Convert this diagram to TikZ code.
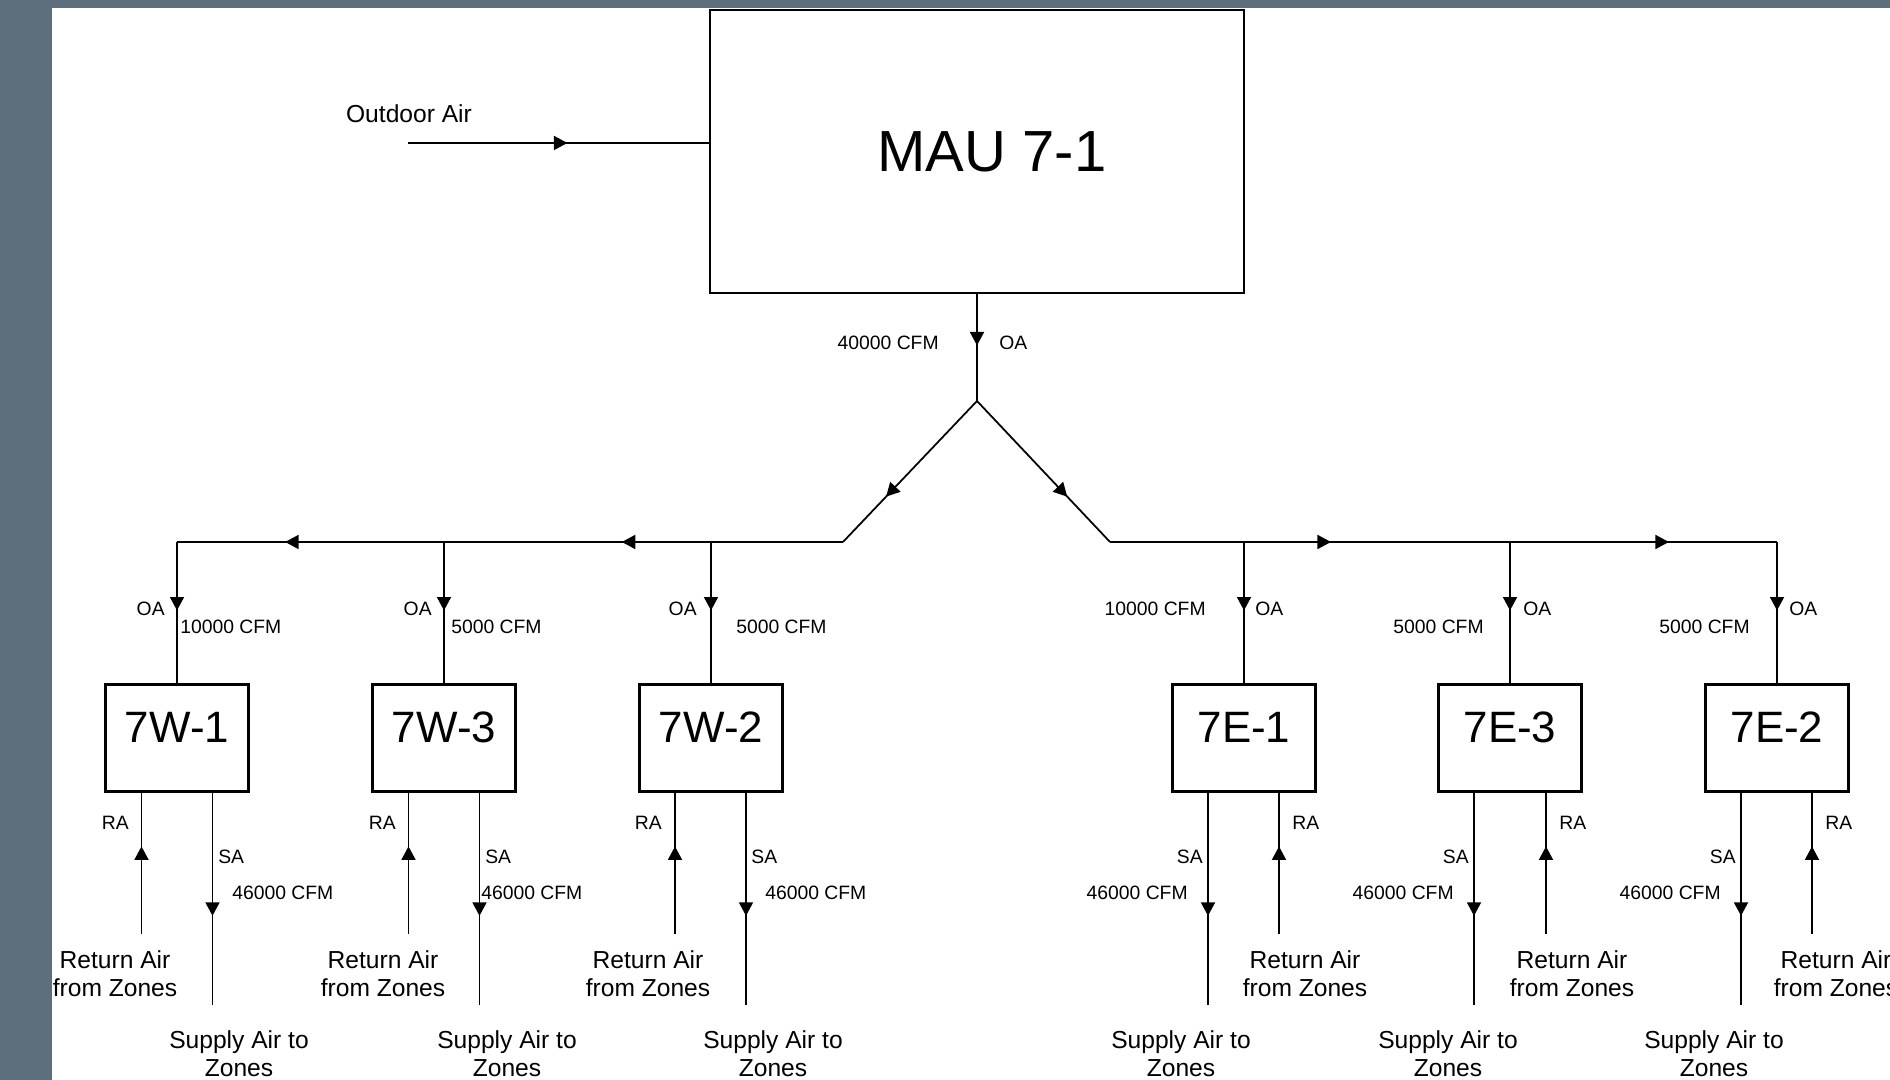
\documentclass[tikz,border=0pt]{standalone}
\usepackage{fontspec}
\setmainfont{Liberation Sans}
\usetikzlibrary{arrows.meta, positioning, calc, decorations.markings}

\definecolor{slate}{RGB}{93,111,125}

\begin{document}
\begin{tikzpicture}[>=Latex, every node/.style={inner sep=0pt, font=\fontsize{11}{13}\selectfont},
    midarrow/.style={postaction={decorate, decoration={markings, mark=at position #1 with {\arrow{Triangle[length=0.27cm, width=0.28cm]}}}}}]
    \tikzstyle{unit}=[rectangle, draw, line width=1.4pt, minimum width=2.86cm, minimum height=2.14cm, text height=0.64cm, text depth=0.44cm, font=\fontsize{25}{30}\selectfont]
    \tikzstyle{duct}=[line width=1pt]
    \tikzstyle{zone}=[align=center, font=\fontsize{14}{16}\selectfont]

    \useasboundingbox (0,0) rectangle (37.8,21.6);
    \fill[slate] (0,0) rectangle (37.8,21.6);
    \fill[white] (1.04,0) rectangle (37.8,21.44);

    \node[draw, line width=1.4pt, minimum width=10.68cm, minimum height=5.66cm, font=\fontsize{33}{40}\selectfont] (mau) at (19.54, 18.57) {\hspace*{0.6cm}MAU 7-1};
    \node[font=\fontsize{14}{16}\selectfont] (oalabel) at (8.18, 19.32) {Outdoor Air};
    \coordinate (oain) at (8.16, 18.74);
    \coordinate (split) at (19.54, 13.58);
    \coordinate (wsplit) at (16.86, 10.76);
    \coordinate (esplit) at (22.2, 10.76);

    \node[unit] (w1) at (3.54, 6.84) {7W-1};
    \node[unit] (w3) at (8.88, 6.84) {7W-3};
    \node[unit] (w2) at (14.22, 6.84) {7W-2};
    \node[unit] (e1) at (24.88, 6.84) {7E-1};
    \node[unit] (e3) at (30.2, 6.84) {7E-3};
    \node[unit] (e2) at (35.54, 6.84) {7E-2};

    \coordinate (w1bus) at (w1 |- wsplit);
    \coordinate (w3bus) at (w3 |- wsplit);
    \coordinate (w2bus) at (w2 |- wsplit);
    \coordinate (e1bus) at (e1 |- esplit);
    \coordinate (e3bus) at (e3 |- esplit);
    \coordinate (e2bus) at (e2 |- esplit);

    \coordinate (w1ra) at (2.83, 2.92);
    \coordinate (w1sa) at (4.25, 1.5);
    \coordinate (w3ra) at (8.17, 2.92);
    \coordinate (w3sa) at (9.59, 1.5);
    \coordinate (w2ra) at (13.5, 2.92);
    \coordinate (w2sa) at (14.92, 1.5);
    \coordinate (e1sa) at (24.16, 1.5);
    \coordinate (e1ra) at (25.58, 2.92);
    \coordinate (e3sa) at (29.48, 1.5);
    \coordinate (e3ra) at (30.92, 2.92);
    \coordinate (e2sa) at (34.82, 1.5);
    \coordinate (e2ra) at (36.24, 2.92);

    \draw[duct, midarrow=0.53] (oain) -- (oain -| mau.west);
    \draw[duct, midarrow=0.48] (mau.south) -- (split);
    \draw[duct, midarrow=0.68] (split) -- (wsplit);
    \draw[duct, midarrow=0.68] (split) -- (esplit);

    \draw[duct] (wsplit) -- (w2bus);
    \draw[duct, midarrow=0.334] (w2bus) -- (w3bus);
    \draw[duct, midarrow=0.595] (w3bus) -- (w1bus);
    \draw[duct] (esplit) -- (e1bus);
    \draw[duct, midarrow=0.327] (e1bus) -- (e3bus);
    \draw[duct, midarrow=0.595] (e3bus) -- (e2bus);

    \draw[duct, midarrow=0.485] (w1bus) -- (w1.north);
    \draw[duct, midarrow=0.485] (w3bus) -- (w3.north);
    \draw[duct, midarrow=0.485] (w2bus) -- (w2.north);
    \draw[duct, midarrow=0.485] (e1bus) -- (e1.north);
    \draw[duct, midarrow=0.485] (e3bus) -- (e3.north);
    \draw[duct, midarrow=0.485] (e2bus) -- (e2.north);

    \draw[duct, midarrow=0.62] (w1ra) -- (w1ra |- w1.south);
    \draw[duct, midarrow=0.58] (w1sa |- w1.south) -- (w1sa);
    \draw[duct, midarrow=0.62] (w3ra) -- (w3ra |- w3.south);
    \draw[duct, midarrow=0.58] (w3sa |- w3.south) -- (w3sa);
    \draw[duct, midarrow=0.62] (w2ra) -- (w2ra |- w2.south);
    \draw[duct, midarrow=0.58] (w2sa |- w2.south) -- (w2sa);
    \draw[duct, midarrow=0.62] (e1ra) -- (e1ra |- e1.south);
    \draw[duct, midarrow=0.58] (e1sa |- e1.south) -- (e1sa);
    \draw[duct, midarrow=0.62] (e3ra) -- (e3ra |- e3.south);
    \draw[duct, midarrow=0.58] (e3sa |- e3.south) -- (e3sa);
    \draw[duct, midarrow=0.62] (e2ra) -- (e2ra |- e2.south);
    \draw[duct, midarrow=0.58] (e2sa |- e2.south) -- (e2sa);

    \node[anchor=east] (mauflow) at (18.78, 14.74) {40000 CFM};
    \node[anchor=west] (mauoa) at (19.98, 14.74) {OA};

    \node[anchor=east] (w1oa) at (3.3, 9.42) {OA};
    \node[anchor=west] (w1flow) at (3.6, 9.06) {10000 CFM};
    \node[anchor=east] (w1ratxt) at (2.58, 5.14) {RA};
    \node[anchor=west] (w1satxt) at (4.36, 4.46) {SA};
    \node[anchor=west] (w1saflow) at (4.64, 3.74) {46000 CFM};
    \node[zone] (w1ret) at (2.3, 2.13) {Return Air\\from Zones};
    \node[zone] (w1sup) at (4.78, 0.52) {Supply Air to\\Zones};

    \node[anchor=east] (w3oa) at (8.64, 9.42) {OA};
    \node[anchor=west] (w3flow) at (9.02, 9.06) {5000 CFM};
    \node[anchor=east] (w3ratxt) at (7.92, 5.14) {RA};
    \node[anchor=west] (w3satxt) at (9.7, 4.46) {SA};
    \node[anchor=west] (w3saflow) at (9.62, 3.74) {46000 CFM};
    \node[zone] (w3ret) at (7.66, 2.13) {Return Air\\from Zones};
    \node[zone] (w3sup) at (10.14, 0.52) {Supply Air to\\Zones};

    \node[anchor=east] (w2oa) at (13.94, 9.42) {OA};
    \node[anchor=west] (w2flow) at (14.72, 9.06) {5000 CFM};
    \node[anchor=east] (w2ratxt) at (13.24, 5.14) {RA};
    \node[anchor=west] (w2satxt) at (15.02, 4.46) {SA};
    \node[anchor=west] (w2saflow) at (15.3, 3.74) {46000 CFM};
    \node[zone] (w2ret) at (12.96, 2.13) {Return Air\\from Zones};
    \node[zone] (w2sup) at (15.46, 0.52) {Supply Air to\\Zones};

    \node[anchor=east] (e1flow) at (24.12, 9.42) {10000 CFM};
    \node[anchor=west] (e1oa) at (25.1, 9.42) {OA};
    \node[anchor=west] (e1ratxt) at (25.84, 5.14) {RA};
    \node[anchor=east] (e1satxt) at (24.06, 4.46) {SA};
    \node[anchor=east] (e1saflow) at (23.76, 3.74) {46000 CFM};
    \node[zone] (e1ret) at (26.1, 2.13) {Return Air\\from Zones};
    \node[zone] (e1sup) at (23.62, 0.52) {Supply Air to\\Zones};

    \node[anchor=east] (e3flow) at (29.68, 9.06) {5000 CFM};
    \node[anchor=west] (e3oa) at (30.46, 9.42) {OA};
    \node[anchor=west] (e3ratxt) at (31.18, 5.14) {RA};
    \node[anchor=east] (e3satxt) at (29.38, 4.46) {SA};
    \node[anchor=east] (e3saflow) at (29.08, 3.74) {46000 CFM};
    \node[zone] (e3ret) at (31.44, 2.13) {Return Air\\from Zones};
    \node[zone] (e3sup) at (28.96, 0.52) {Supply Air to\\Zones};

    \node[anchor=east] (e2flow) at (35.0, 9.06) {5000 CFM};
    \node[anchor=west] (e2oa) at (35.78, 9.42) {OA};
    \node[anchor=west] (e2ratxt) at (36.5, 5.14) {RA};
    \node[anchor=east] (e2satxt) at (34.72, 4.46) {SA};
    \node[anchor=east] (e2saflow) at (34.42, 3.74) {46000 CFM};
    \node[zone] (e2ret) at (36.72, 2.13) {Return Air\\from Zones};
    \node[zone] (e2sup) at (34.28, 0.52) {Supply Air to\\Zones};
\end{tikzpicture}
\end{document}
